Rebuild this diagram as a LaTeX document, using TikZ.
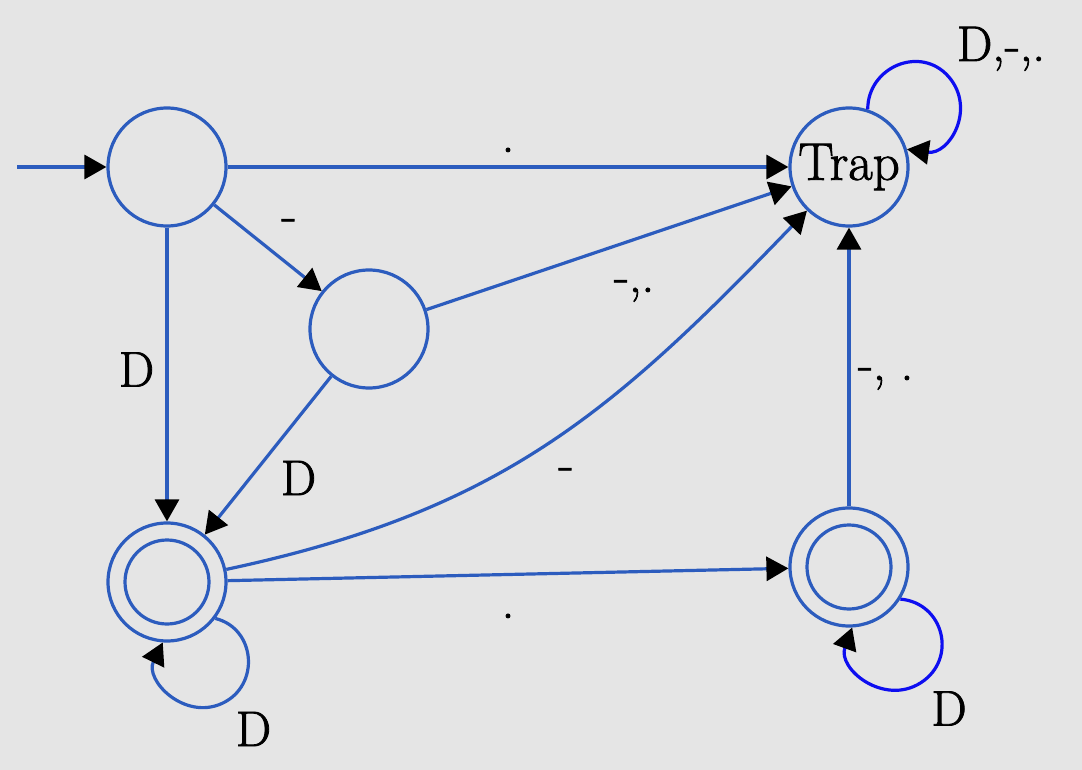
\documentclass[tikz,border=0pt]{standalone}
\usepackage{fontspec}
\newfontfamily\lblfont{Latin Modern Roman}[FakeBold=1.6]
\usetikzlibrary{arrows.meta}
\definecolor{edgeblue}{RGB}{44,92,190}
\definecolor{loopblue}{RGB}{14,14,240}
\definecolor{bggray}{RGB}{229,229,229}
\begin{document}
\begin{tikzpicture}[x=1pt,y=-1pt,
  every node/.style={font=\lblfont\fontsize{50}{58}\selectfont},
  state/.style={circle,draw=edgeblue,line width=3.2pt,minimum size=118pt,inner sep=0pt},
  ring/.style={draw=edgeblue,line width=3.2pt},
  trans/.style={draw=edgeblue,line width=3.2pt,
    -{Triangle[length=22pt,width=24pt,color=black]}},
  selfloop/.style={trans,draw=loopblue},
  lbl/.style={inner sep=0pt,outer sep=0pt}]

% canvas
\path[use as bounding box,fill=bggray] (0,0) rectangle (1082,770);

% states
\node[state] (s)    at (167,167) {};
\node[state] (m)    at (369,329) {};
\node[state] (trap) at (849,167) {\fontsize{53}{60}\selectfont Trap};
\node[state] (a1)   at (167,582) {};
\node[state] (a2)   at (849,567) {};
\draw[ring] (a1.center) circle[radius=42pt];
\draw[ring] (a2.center) circle[radius=42pt];

% start arrow
\coordinate (init) at (17,167);
\draw[trans] (init) -- (s);

% transitions
\draw[trans] (s) -- (trap);
\draw[trans] (s) -- (m);
\draw[trans] (s) -- (a1);
\draw[trans] (m) -- (trap);
\draw[trans] (m) -- (a1);
\draw[trans] (a1) .. controls (501,511) and (612,413) .. (trap);
\draw[trans] (a1) -- (a2);
\draw[trans] (a2) -- (trap);

% self loops, each built from two arcs of a circle
\coordinate (tmid)  at (948.7,76.8);
\coordinate (a1mid) at (222.3,703.3);
\coordinate (a2mid) at (920.7,682.8);
\draw[selfloop] (trap.72) .. controls +(0,-42.6) and +(-27.9,-32.2) .. (tmid)
                          .. controls +(27.9,32.2) and +(42.2,5.9) .. (trap.17);
\draw[trans] (a1.-37) .. controls +(40.6,10.1) and +(38.0,-17.7) .. (a1mid)
                      .. controls +(-38.0,17.7) and +(-18.4,37.7) .. (a1.-94);
\draw[selfloop] (a2.-32) .. controls +(43.7,3.8) and +(37.0,-23.6) .. (a2mid)
                         .. controls +(-37.0,23.6) and +(-15.0,41.3) .. (a2.-87);

% labels
\node[lbl,anchor=base] (l1) at (508,152) {.};
\node[lbl,anchor=base] (l2) at (289,231) {-};
\node[lbl] (l3) at (136.5,369.5) {D};
\node[lbl,anchor=base west] (l4) at (614,292) {-,.};
\node[lbl] (l5) at (298.5,478) {D};
\node[lbl,anchor=base] (l6) at (566,480) {-};
\node[lbl,anchor=base] (l7) at (508,618) {.};
\node[lbl,anchor=base west] (l8) at (858,380) {-, .};
\node[lbl,anchor=base west] (l9) at (957,61) {D,-,.};
\node[lbl] (l10) at (253.5,729) {D};
\node[lbl] (l11) at (949,708.5) {D};
\end{tikzpicture}
\end{document}
